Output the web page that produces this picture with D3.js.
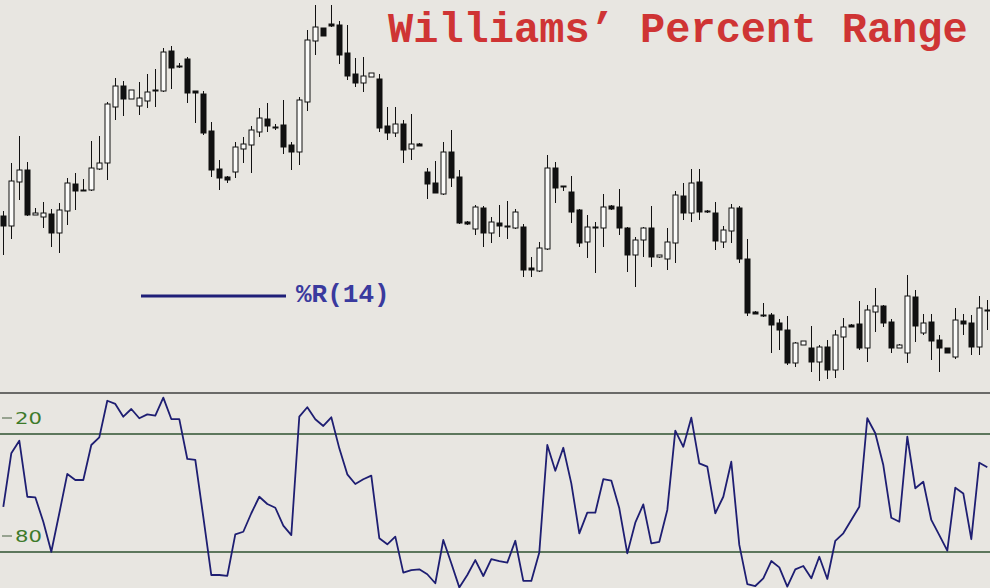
<!DOCTYPE html>
<html lang="en">
<head>
<meta charset="UTF-8">
<title>Williams' Percent Range</title>
<script src="https://d3js.org/d3.v7.min.js"></script>
<style>
  html, body { margin: 0; padding: 0; background: #e8e6e1; overflow: hidden; }
  svg { display: block; }
</style>
</head>
<body>
<svg id="chart" width="990" height="588"></svg>
<script>
  // candle data (arbitrary price units), one entry per bar
  const opens = [184,174,218,230,185,183,186,167,189,216,
    210,210,231,237,293,314,301,294,299,309,
    309,349,334,341,309,306,269,231,223,228,
    251,255,268,281,273,275,255,248,298,359,
    372,376,375,347,326,317,323,321,274,267,
    276,251,256,228,217,206,248,223,178,171,
    192,167,177,174,172,173,132,129,151,232,
    214,208,190,158,173,172,194,193,172,145,
    160,172,143,141,157,204,187,218,189,187,
    158,169,192,141,88,85,85,77,70,37,
    55,52,38,53,30,63,75,76,52,88,
    94,78,52,47,103,67,78,60,52,43,
    79,77,53,90];
  const highs = [189,237,264,238,192,198,191,197,222,227,
    221,259,264,298,322,319,310,318,326,331,
    352,354,337,343,309,309,278,240,224,258,
    263,274,292,297,276,300,258,303,370,395,
    372,395,379,375,342,343,327,326,293,293,
    280,286,257,232,239,258,270,230,179,195,
    194,183,195,199,191,176,143,158,245,238,
    214,224,191,185,178,206,195,211,173,163,
    173,194,145,172,209,217,231,231,190,198,
    174,196,194,161,89,97,87,81,84,58,
    59,74,55,60,70,82,76,99,95,112,
    95,81,56,125,110,86,86,65,52,92,
    86,85,104,100];
  const lows = [145,161,200,184,185,172,153,147,175,190,
    209,209,230,220,280,284,301,285,292,293,
    308,311,332,297,277,265,223,210,217,222,
    237,227,263,268,270,246,230,235,289,345,
    364,373,336,320,313,308,323,268,260,263,
    237,240,254,201,207,205,213,176,175,165,
    153,157,163,161,171,123,123,128,150,197,
    209,177,153,142,127,153,190,165,128,113,
    143,133,142,130,137,180,178,180,187,150,
    152,157,137,84,86,83,47,50,35,33,
    55,28,19,21,22,30,73,50,38,68,
    73,47,52,37,58,65,40,28,47,41,
    65,45,45,70];
  const closes = [174,219,230,185,187,187,167,190,217,209,
    209,232,237,296,314,301,310,302,308,310,
    348,332,333,307,307,267,230,222,220,253,
    256,270,282,274,273,253,248,300,360,373,
    364,374,345,324,317,324,327,272,267,276,
    250,256,254,216,207,248,222,177,176,193,
    167,178,174,173,188,130,130,152,232,212,
    213,188,157,173,172,193,191,172,145,160,
    172,143,145,158,205,187,217,188,188,159,
    170,192,141,87,86,85,75,70,37,57,
    59,38,53,30,65,73,73,52,90,94,
    77,52,55,104,74,77,59,52,47,80,
    76,53,92,89];

  // Williams %R(14)
  const wpr = [-57.0,-29.8,-23.4,-51.9,-52.2,-64.6,-79.9,-60.3,-40.3,-43.4,
    -43.4,-25.6,-21.7,-3.1,-4.7,-11.2,-7.3,-12.0,-10.0,-10.7,
    -1.5,-12.4,-12.4,-32.7,-33.2,-62.1,-91.7,-91.7,-92.1,-71.0,
    -69.7,-60.3,-51.9,-55.6,-57.5,-66.6,-71.4,-11.2,-6.4,-12.5,
    -15.9,-11.5,-27.3,-40.5,-45.4,-43.0,-41.2,-73.0,-76.1,-72.2,
    -90.5,-89.2,-88.8,-91.3,-95.9,-73.9,-85.7,-98.0,-91.7,-84.1,
    -92.2,-83.6,-84.6,-85.4,-74.3,-94.7,-94.7,-80.2,-25.6,-38.7,
    -27.0,-45.1,-70.5,-60.0,-60.0,-43.0,-43.7,-57.8,-80.7,-65.1,
    -55.8,-75.6,-74.8,-58.6,-18.3,-26.5,-11.7,-34.9,-36.6,-60.3,
    -51.9,-34.1,-76.4,-96.3,-97.3,-93.4,-84.6,-87.8,-97.6,-88.8,
    -87.1,-93.4,-82.4,-93.7,-74.3,-70.5,-63.7,-57.0,-12.0,-19.6,
    -35.8,-62.6,-64.6,-21.4,-47.6,-44.3,-63.7,-71.4,-79.3,-47.3,
    -50.2,-73.5,-34.6,-36.9];

  const levels = [-20, -80];
  const levelLabels = ["20", "80"];

  const svg = d3.select("#chart");

  const x = d3.scaleLinear().domain([0, opens.length - 1]).range([3.3, 987.3]);
  const yPrice = d3.scaleLinear().domain([0, 400]).range([400, 0]);
  const yW = d3.scaleLinear().domain([-20, -80]).range([434, 552]);

  svg.append("rect").attr("width", 990).attr("height", 588).attr("fill", "#e8e6e1");

  // price panel
  const candles = svg.append("g").attr("id", "candles");
  const bodyW = 5;
  opens.forEach((o, i) => {
    const c = closes[i];
    const cx = Math.round(x(i)) + 0.5;
    candles.append("line")
      .attr("x1", cx).attr("x2", cx)
      .attr("y1", yPrice(highs[i])).attr("y2", yPrice(lows[i]))
      .attr("stroke", "#111").attr("stroke-width", 1);
    const top = yPrice(Math.max(o, c));
    const h = Math.max(1, Math.abs(yPrice(o) - yPrice(c)));
    candles.append("rect")
      .attr("x", cx - bodyW / 2).attr("y", top)
      .attr("width", bodyW).attr("height", h)
      .attr("fill", c < o ? "#111" : "#fbfbf9")
      .attr("stroke", "#111").attr("stroke-width", 1);
  });

  svg.append("text")
    .attr("x", 388).attr("y", 42)
    .attr("font-family", "Liberation Mono, Courier New, monospace")
    .attr("font-weight", "bold")
    .attr("font-size", 42)
    .attr("fill", "#cf3434")
    .text("Williams\u2019 Percent Range");

  // legend
  svg.append("line")
    .attr("x1", 141).attr("x2", 286).attr("y1", 296).attr("y2", 296)
    .attr("stroke", "#1f1f78").attr("stroke-width", 3);
  svg.append("text")
    .attr("x", 296).attr("y", 302)
    .attr("font-family", "Liberation Mono, Courier New, monospace")
    .attr("font-weight", "bold")
    .attr("font-size", 26)
    .attr("fill", "#3a3a9e")
    .text("%R(14)");

  // indicator panel
  svg.append("line")
    .attr("x1", 0).attr("x2", 990).attr("y1", 393).attr("y2", 393)
    .attr("stroke", "#6a6a68").attr("stroke-width", 2);

  const lv = svg.append("g").attr("id", "levels");
  levels.forEach((v, k) => {
    lv.append("line")
      .attr("x1", 0).attr("x2", 990).attr("y1", yW(v)).attr("y2", yW(v))
      .attr("stroke", "#2f522f").attr("stroke-width", 1.6);
    lv.append("line")
      .attr("x1", 2).attr("x2", 12).attr("y1", yW(v) - 16).attr("y2", yW(v) - 16)
      .attr("stroke", "#7c8c74").attr("stroke-width", 1.5);
    lv.append("text")
      .attr("x", 15).attr("y", yW(v) - 10)
      .attr("font-family", "DejaVu Sans, sans-serif")
      .attr("font-size", 15)
      .attr("textLength", 27).attr("lengthAdjust", "spacingAndGlyphs")
      .attr("fill", "#3d7a2a")
      .text(levelLabels[k]);
  });

  const line = d3.line().x((d, i) => x(i)).y(d => yW(d));
  svg.append("path")
    .datum(wpr)
    .attr("d", line)
    .attr("fill", "none")
    .attr("stroke", "#1e1e72")
    .attr("stroke-width", 1.8)
    .attr("stroke-linejoin", "round");
</script>
</body>
</html>
